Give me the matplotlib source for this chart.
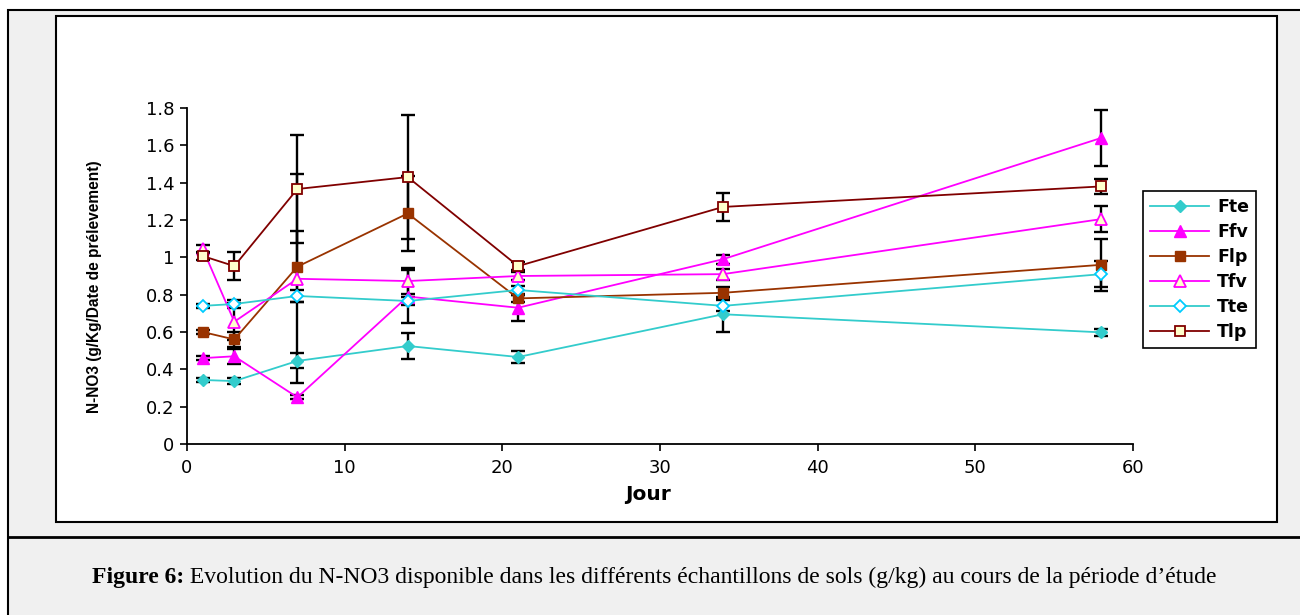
import matplotlib
matplotlib.use("Agg")
import matplotlib.pyplot as plt
from matplotlib.patches import Rectangle
from matplotlib.lines import Line2D
from matplotlib.ticker import FuncFormatter

# ---------------- data ----------------
jours = [1, 3, 7, 14, 21, 34, 58]

fte = [0.343, 0.337, 0.445, 0.525, 0.466, 0.695, 0.598]
ffv = [0.46, 0.47, 0.25, 0.79, 0.73, 0.99, 1.64]
flp = [0.60, 0.56, 0.95, 1.235, 0.78, 0.81, 0.96]
tfv = [1.045, 0.655, 0.885, 0.873, 0.90, 0.91, 1.205]
tte = [0.74, 0.75, 0.793, 0.766, 0.825, 0.74, 0.91]
tlp = [1.007, 0.953, 1.366, 1.43, 0.953, 1.27, 1.38]

err_fte = [0.012, 0.015, 0.04, 0.07, 0.03, 0.095, 0.02]
err_ffv = [0.01, 0.04, 0.01, 0.14, 0.07, 0.025, 0.15]
err_flp = [0.01, 0.04, 0.19, 0.20, 0.02, 0.03, 0.14]
err_tfv = [0.02, 0.10, 0.56, 0.07, 0.02, 0.03, 0.07]
err_tte = [0.01, 0.02, 0.03, 0.02, 0.02, 0.03, 0.07]
err_tlp = [0.02, 0.075, 0.29, 0.33, 0.02, 0.075, 0.04]

labels = ["Fte", "Ffv", "Flp", "Tfv", "Tte", "Tlp"]
xticks = [0, 10, 20, 30, 40, 50, 60]
yticks = [0, 0.2, 0.4, 0.6, 0.8, 1.0, 1.2, 1.4, 1.6, 1.8]

# --------------- figure ---------------
W, H = 1300, 615
fig = plt.figure(figsize=(13, 6.15), dpi=100)
fig.patch.set_facecolor("white")
plt.rcParams['font.family'] = ['DejaVu Sans']

def fx(px):
    return px / W

def fy(py):
    return 1 - py / H

# outer table frame (gray)
fig.add_artist(Rectangle((fx(8), fy(640)), fx(1310 - 8), (640 - 10) / H,
                         transform=fig.transFigure, facecolor="#f0f0f0",
                         edgecolor="black", linewidth=1.5, zorder=0))
# separator line between chart and caption
fig.add_artist(Line2D([fx(8), 1.0], [fy(537), fy(537)], transform=fig.transFigure,
                      color="black", linewidth=2.0, zorder=1))
# chart box (white)
fig.add_artist(Rectangle((fx(56), fy(522)), fx(1277 - 56), (522 - 16) / H,
                         transform=fig.transFigure, facecolor="white",
                         edgecolor="black", linewidth=1.5, zorder=1))

ax = fig.add_axes([fx(187), fy(444), fx(1133 - 187), (444 - 108) / H])
ax.set_facecolor("none")
ax.set_zorder(2)

series = [
    (fte, err_fte, dict(color="#33CCCC", marker="D", markersize=6,
                        markerfacecolor="#33CCCC", markeredgecolor="#33CCCC")),
    (ffv, err_ffv, dict(color="#FF00FF", marker="^", markersize=8,
                        markerfacecolor="#FF00FF", markeredgecolor="#FF00FF")),
    (flp, err_flp, dict(color="#993300", marker="s", markersize=7,
                        markerfacecolor="#993300", markeredgecolor="#993300")),
    (tfv, err_tfv, dict(color="#FF00FF", marker="^", markersize=8,
                        markerfacecolor="#FFFFCC", markeredgecolor="#FF00FF",
                        markeredgewidth=1.3)),
    (tte, err_tte, dict(color="#33CCCC", marker="D", markersize=6,
                        markerfacecolor="white", markeredgecolor="#00CCFF",
                        markeredgewidth=1.3)),
    (tlp, err_tlp, dict(color="#800000", marker="s", markersize=7,
                        markerfacecolor="#FFFFCC", markeredgecolor="#800000",
                        markeredgewidth=1.3)),
]

for vals, errs, style in series:
    ax.errorbar(jours, vals, yerr=errs, fmt="none", ecolor="black",
                elinewidth=1.7, capsize=5, capthick=1.7, zorder=2)

handles = []
for (vals, errs, style), lab in zip(series, labels):
    h, = ax.plot(jours, vals, linewidth=1.3, label=lab, zorder=3, **style)
    handles.append(h)

ax.set_xlim(0, 60)
ax.set_ylim(0, 1.8)
ax.set_xticks(xticks)
ax.set_yticks(yticks)
ax.yaxis.set_major_formatter(FuncFormatter(lambda v, p: f"{v:g}"))
ax.spines["top"].set_visible(False)
ax.spines["right"].set_visible(False)
ax.spines["left"].set_linewidth(1.3)
ax.spines["bottom"].set_linewidth(1.3)
ax.tick_params(direction="out", length=5, width=1.2, labelsize=13)
ax.tick_params(axis="y", pad=4)
ax.tick_params(axis="x", pad=6)

fig.text(fx(648), fy(494), "Jour", ha="center", va="center",
         fontsize=14.5, fontweight="bold")
fig.text(fx(95), fy(287), "N-NO3 (g/Kg/Date de prélevement)", ha="center",
         va="center", rotation=90, fontsize=11.2, fontweight="bold",
         family=["Liberation Sans"])

leg = fig.legend(handles=handles, labels=labels, loc="upper left",
                 bbox_to_anchor=(fx(1143), fy(191)), bbox_transform=fig.transFigure,
                 frameon=True, fancybox=False, edgecolor="black", framealpha=1,
                 prop={"weight": "bold", "size": 12.5}, handlelength=3.4,
                 labelspacing=0.4, borderpad=0.42, handletextpad=0.45,
                 borderaxespad=0)
leg.get_frame().set_linewidth(1.2)

t1 = fig.text(fx(92), fy(577), "Figure 6:", ha="left", va="center",
              fontsize=17, fontweight="bold", family=["Liberation Serif"])
plt.annotate(" Evolution du N-NO3 disponible dans les différents échantillons de sols (g/kg) au cours de la période d\u2019étude",
             xy=(1, 0), xycoords=t1, ha="left", va="bottom",
             fontsize=17, family=["Liberation Serif"], annotation_clip=False)

fig.savefig("out.png", dpi=100, facecolor=fig.get_facecolor())
